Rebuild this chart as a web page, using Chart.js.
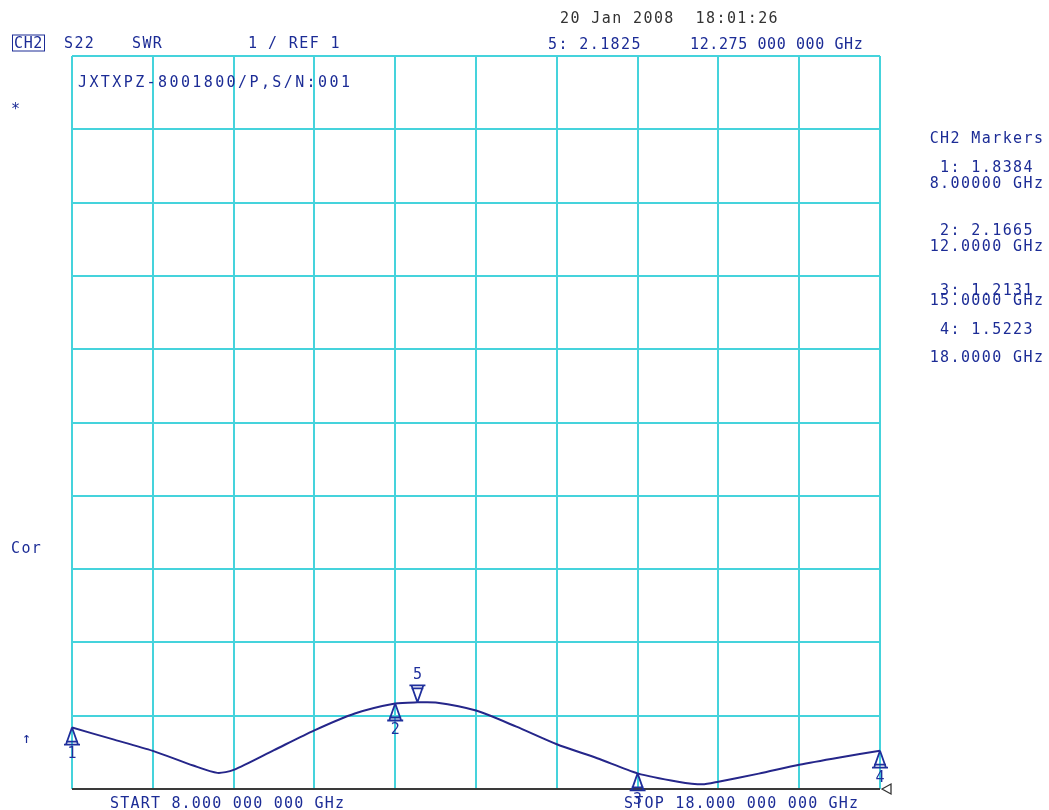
<!DOCTYPE html>
<html>
<head>
<meta charset="utf-8">
<script src="https://cdn.jsdelivr.net/npm/chart.js@4/dist/chart.umd.min.js"></script>
<style>
  html, body { margin: 0; padding: 0; background: #fff; }
  #wrap { position: relative; width: 1049px; height: 810px; overflow: hidden; }
  #grafico { position: absolute; left: 0; top: 0; }
  .txt { position: absolute; font-family: "DejaVu Sans Mono", monospace; font-size: 15px;
         letter-spacing: 1.4px; color: #1c2c96; white-space: pre; transform: translateY(-50%); line-height: 1; }
  .centro { transform: translate(-50%, -50%); }
  .cinza { color: #333; }
  .caixa { border: 1.5px solid #1c2c96; padding: 0 1px; }
</style>
</head>
<body>
<div id="wrap">
  <canvas id="grafico" width="1049" height="810"></canvas>

  <div class="txt cinza" style="left:560px; top:18px;">20 Jan 2008  18:01:26</div>
  <div class="txt caixa" style="left:12px; top:43px; letter-spacing:0.6px;">CH2</div>
  <div class="txt" style="left:64px; top:43px;">S22</div>
  <div class="txt" style="left:132px; top:43px;">SWR</div>
  <div class="txt" style="left:248px; top:43px;">1</div>
  <div class="txt" style="left:268px; top:43px;">/ REF 1</div>
  <div class="txt" style="left:548px; top:44px;">5: 2.1825</div>
  <div class="txt" style="left:690px; top:44px; letter-spacing:0.6px;">12.275 000 000 GHz</div>
  <div class="txt" style="left:78px; top:82px; letter-spacing:2.4px;">JXTXPZ-8001800/P,S/N:001</div>
  <div class="txt" style="left:11px; top:109px;">*</div>

  <div class="txt centro" style="left:987px; top:138px;">CH2 Markers</div>
  <div class="txt centro" style="left:987px; top:167px;">1: 1.8384</div>
  <div class="txt centro" style="left:987px; top:183px;">8.00000 GHz</div>
  <div class="txt centro" style="left:987px; top:230px;">2: 2.1665</div>
  <div class="txt centro" style="left:987px; top:246px;">12.0000 GHz</div>
  <div class="txt centro" style="left:987px; top:290px;">3: 1.2131</div>
  <div class="txt centro" style="left:987px; top:300px;">15.0000 GHz</div>
  <div class="txt centro" style="left:987px; top:329px;">4: 1.5223</div>
  <div class="txt centro" style="left:987px; top:357px;">18.0000 GHz</div>

  <div class="txt" style="left:11px; top:548px;">Cor</div>
  <div class="txt" style="left:22px; top:738px;">↑</div>
  <div class="txt" style="left:110px; top:803px; letter-spacing:1.2px;">START 8.000 000 000 GHz</div>
  <div class="txt" style="left:624px; top:803px; letter-spacing:1.2px;">STOP 18.000 000 000 GHz</div>
</div>

<script>
const frequencias = [8, 8.5, 9, 9.5, 9.8, 10, 10.5, 11, 11.5, 12, 12.275, 12.5, 13, 13.5, 14, 14.5, 15, 15.5, 15.8, 16, 16.5, 17, 17.5, 18];
const swr = [1.838, 1.68, 1.52, 1.32, 1.22, 1.26, 1.53, 1.80, 2.03, 2.1665, 2.1825, 2.18, 2.07, 1.85, 1.61, 1.42, 1.2131, 1.10, 1.064, 1.10, 1.21, 1.33, 1.43, 1.5223];

// marcadores: 1..4 normais, 5 ativo
const marcadorNomes = ['1', '2', '3', '4', '5'];
const marcadorFreq = [8, 12, 15, 18, 12.275];
const marcadorSwr = [1.8384, 2.1665, 1.2131, 1.5223, 2.1825];
const marcadorAtivo = 4;

const ticksX = [8, 9, 10, 11, 12, 13, 14, 15, 16, 17, 18];
const ticksY = [1, 2, 3, 4, 5, 6, 7, 8, 9, 10, 11];
const nivelRef = 1;

const corGrade = '#45d3dc';
const corTraco = '#25268a';
const corMarca = '#1f2f9c';

const pluginMarcadores = {
    id: 'marcadores',
    afterDatasetsDraw(chart) {
        const ctx = chart.ctx;
        const sx = chart.scales.x, sy = chart.scales.y;
        ctx.save();
        ctx.strokeStyle = corMarca;
        ctx.fillStyle = corMarca;
        ctx.lineWidth = 1.8;
        ctx.font = '15px "DejaVu Sans Mono", monospace';
        ctx.textAlign = 'center';
        ctx.textBaseline = 'middle';
        marcadorFreq.forEach((f, i) => {
            const px = sx.getPixelForValue(f);
            const py = sy.getPixelForValue(marcadorSwr[i]);
            const dir = i === marcadorAtivo ? -1 : 1;
            const base = py + dir * 17;
            ctx.beginPath();
            ctx.moveTo(px, py);
            ctx.lineTo(px - 6, base);
            ctx.moveTo(px, py);
            ctx.lineTo(px + 6, base);
            ctx.moveTo(px - 8, base);
            ctx.lineTo(px + 8, base);
            ctx.moveTo(px - 6, base - dir * 3);
            ctx.lineTo(px + 6, base - dir * 3);
            ctx.stroke();
            ctx.fillText(marcadorNomes[i], px, py + dir * 27);
        });
        // seta da referencia na borda direita
        const rx = sx.getPixelForValue(18) + 2;
        const ry = sy.getPixelForValue(nivelRef);
        ctx.strokeStyle = '#333';
        ctx.lineWidth = 1.3;
        ctx.beginPath();
        ctx.moveTo(rx, ry);
        ctx.lineTo(rx + 9, ry - 5);
        ctx.lineTo(rx + 9, ry + 5);
        ctx.closePath();
        ctx.stroke();
        ctx.restore();
    }
};

const ctx = document.getElementById('grafico').getContext('2d');
new Chart(ctx, {
    type: 'line',
    data: {
        datasets: [{
            data: frequencias.map((f, i) => ({ x: f, y: swr[i] })),
            borderColor: corTraco,
            borderWidth: 2,
            pointRadius: 0,
            tension: 0.25,
            fill: false
        }]
    },
    options: {
        responsive: false,
        animation: false,
        layout: { padding: { left: 72, right: 169, top: 56, bottom: 21 } },
        plugins: { legend: { display: false }, tooltip: { enabled: false } },
        scales: {
            x: {
                type: 'linear', min: ticksX[0], max: ticksX[ticksX.length - 1],
                afterBuildTicks: s => { s.ticks = ticksX.map(v => ({ value: v })); },
                ticks: { display: false },
                border: { display: false },
                grid: { color: corGrade, lineWidth: 2, drawTicks: false }
            },
            y: {
                min: ticksY[0], max: ticksY[ticksY.length - 1],
                afterBuildTicks: s => { s.ticks = ticksY.map(v => ({ value: v })); },
                ticks: { display: false },
                border: { display: false },
                grid: {
                    color: c => c.tick && c.tick.value === nivelRef ? '#3a3a3a' : corGrade,
                    lineWidth: 2, drawTicks: false
                }
            }
        }
    },
    plugins: [pluginMarcadores]
});
</script>
</body>
</html>
